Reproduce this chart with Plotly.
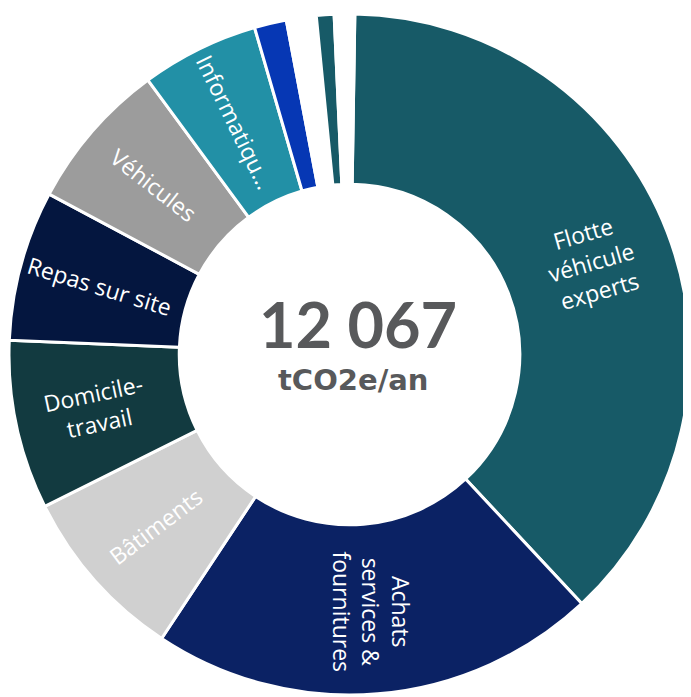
import math
import plotly.graph_objects as go

categories = ["Flotte véhicule experts", "Achats services & fournitures", "Bâtiments",
              "Domicile-travail", "Repas sur site", "Véhicules", "Informatique",
              "Autre A", "Autre B", "Autre C", "Autre D"]
slice_text = ["Flotte<br>véhicule<br>experts", "Achats<br>services &<br>fournitures", "Bâtiments",
              "Domicile-<br>travail", "Repas sur site", "Véhicules", "Informatiqu…",
              "", "", "", ""]
values = [4562, 2564, 1006, 969, 861, 858, 674, 184, 171, 101, 117]
total_label = "12 067"
unit_label = "tCO2e/an"

# styles
colors = ["#175a67", "#0b2264", "#d0d0d0", "#123a40", "#04163f", "#9c9c9c", "#2290a6",
          "#0637b4", "#ffffff", "#175a67", "#ffffff"]
label_angles = [-16, 90, -37, -12, 17, 38, 64, 0, 0, 0, 0]
start_rotation = 0.9
label_radius = 0.76  # fraction of outer radius

fig = go.Figure(go.Pie(
    labels=categories,
    values=values,
    textinfo="none",
    hole=0.5,
    sort=False,
    direction="clockwise",
    rotation=start_rotation,
    marker=dict(colors=colors, line=dict(color="white", width=3)),
    showlegend=False,
    domain=dict(x=[0, 1], y=[0, 1]),
))

# slice labels placed at each slice's mid-angle (computed from the values)
total = sum(values)
cum = 0
for v, txt, ang in zip(values, slice_text, label_angles):
    mid = math.radians(start_rotation + 360 * (cum + v / 2) / total)
    cum += v
    if not txt:
        continue
    fig.add_annotation(
        x=0.5 + 0.5 * label_radius * math.sin(mid),
        y=0.5 + 0.5 * label_radius * math.cos(mid),
        xref="paper", yref="paper", text=txt, textangle=ang, showarrow=False,
        font=dict(family="Open Sans", size=23, color="white"),
        xanchor="center", yanchor="middle", align="center")

fig.add_annotation(x=0.512, y=0.546, xref="paper", yref="paper", text="<b>" + total_label + "</b>",
                   showarrow=False, font=dict(family="Lato", size=63, color="#58595b"),
                   xanchor="center", yanchor="middle")
fig.add_annotation(x=0.505, y=0.463, xref="paper", yref="paper", text="<b>" + unit_label + "</b>",
                   showarrow=False, font=dict(family="DejaVu Sans", size=29, color="#58595b"),
                   xanchor="center", yanchor="middle")

fig.update_layout(width=683, height=689, autosize=False,
                  margin=dict(l=1, r=1, t=6, b=2),
                  paper_bgcolor="white", plot_bgcolor="white")
fig.write_html("out.html")
